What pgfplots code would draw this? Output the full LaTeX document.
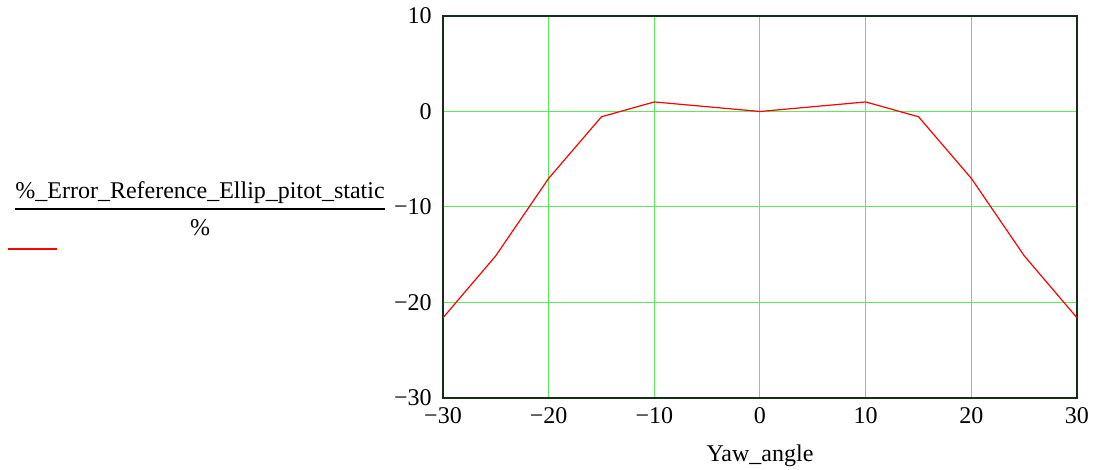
\documentclass[border=0pt]{standalone}
\usepackage{pgfplots}
\pgfplotsset{compat=1.18}
\usepackage{fontspec}
\setmainfont{Liberation Serif}
\definecolor{gridgreen}{RGB}{90,235,90}
\definecolor{framegreen}{RGB}{22,45,22}
\begin{document}
\fontsize{12}{14}\selectfont
\begin{tikzpicture}
\useasboundingbox (0,0) rectangle (549.5pt,235pt);
% left legend-like label
\node[anchor=base,inner sep=0pt] at (100pt,135.5pt) {\%\_Error\_Reference\_Ellip\_pitot\_static};
\draw[line width=0.6pt] (7.5pt,130.5pt) -- (192.5pt,130.5pt);
\node[anchor=base,inner sep=0pt] at (100pt,117pt) {\%};
\draw[red, line width=0.6pt] (4pt,110.5pt) -- (28.5pt,110.5pt);

\begin{axis}[
    at={(221.5pt,36pt)}, anchor=south west,
    scale only axis,
    width=317pt, height=191pt,
    xmin=-30, xmax=30, ymin=-30, ymax=10,
    xtick={-30,-20,...,30},
    xticklabels={−30,−20,−10,0,10,20,30},
    ytick={-30,-20,-10,0,10},
    yticklabels={−30,−20,−10,0,10},
    major tick length=0pt,
    grid=major,
    grid style={gridgreen, line width=0.5pt},
    axis line style={framegreen, line width=1pt},
    xticklabel style={yshift=-0.5pt},
    yticklabel style={xshift=-1.5pt},
    xlabel={Yaw\_angle},
    xlabel style={at={(axis description cs:0.5,-0.1675)}, anchor=base},
]
\addplot[red, line width=0.6pt] coordinates {
    (-30,-21.6) (-25,-15.1) (-20,-7.0) (-15,-0.55) (-10,1.0) (-5,0.5)
    (0,0) (5,0.5) (10,1.0) (15,-0.55) (20,-7.0) (25,-15.1) (30,-21.6)
};
\end{axis}
\end{tikzpicture}
\end{document}
